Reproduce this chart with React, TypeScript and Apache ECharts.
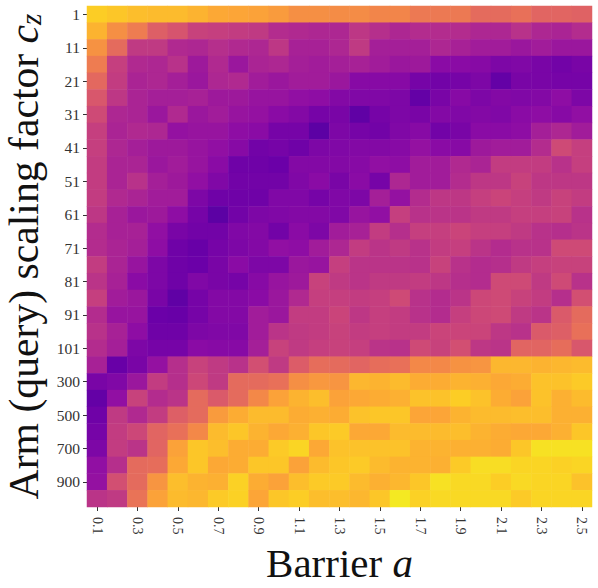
import React, { useEffect, useRef } from "react";
import * as echarts from "echarts";

const barriers = ["0.1","0.2","0.3","0.4","0.5","0.6","0.7","0.8","0.9","1.0","1.1","1.2","1.3","1.4","1.5","1.6","1.7","1.8","1.9","2.0","2.1","2.2","2.3","2.4","2.5"];
const scales = ["1","6","11","16","21","26","31","36","41","46","51","56","61","66","71","76","81","86","91","96","101","200","300","400","500","600","700","800","900","1000"];
const plasma = ["#0d0887","#41049d","#6a00a8","#8f0da4","#b12a90","#cc4778","#e16462","#f2844b","#fca636","#fcce25","#f0f921"];

const values: number[][] = [
  [.92,.90,.88,.87,.87,.85,.82,.81,.80,.78,.74,.74,.73,.73,.71,.71,.67,.67,.67,.62,.62,.64,.60,.60,.59],
  [.85,.74,.68,.58,.54,.47,.46,.45,.44,.39,.38,.37,.37,.43,.40,.37,.39,.39,.39,.37,.37,.41,.37,.36,.39],
  [.75,.62,.44,.44,.38,.37,.40,.38,.37,.43,.35,.35,.37,.44,.34,.34,.34,.37,.35,.33,.33,.31,.33,.31,.31],
  [.68,.46,.38,.37,.41,.32,.38,.31,.36,.37,.34,.33,.34,.35,.33,.31,.32,.26,.26,.25,.22,.23,.21,.19,.21],
  [.61,.45,.36,.37,.34,.31,.37,.38,.33,.31,.33,.33,.31,.25,.25,.25,.20,.19,.20,.22,.15,.21,.21,.20,.20],
  [.55,.43,.36,.34,.34,.35,.32,.32,.30,.30,.28,.27,.24,.23,.23,.22,.15,.21,.25,.22,.24,.23,.24,.27,.22],
  [.50,.37,.36,.31,.38,.31,.33,.30,.29,.26,.24,.20,.21,.14,.20,.22,.21,.24,.23,.24,.23,.26,.27,.25,.28],
  [.46,.36,.38,.37,.29,.30,.30,.27,.26,.20,.20,.13,.22,.20,.19,.23,.25,.19,.21,.26,.26,.27,.34,.37,.33],
  [.46,.37,.34,.32,.32,.30,.28,.25,.19,.20,.18,.22,.23,.24,.24,.25,.29,.26,.25,.32,.33,.33,.39,.50,.46],
  [.45,.36,.36,.31,.33,.30,.26,.18,.18,.17,.24,.24,.24,.25,.28,.27,.33,.33,.38,.36,.45,.45,.45,.41,.46],
  [.45,.36,.41,.34,.32,.28,.23,.19,.19,.19,.23,.26,.21,.26,.20,.37,.33,.33,.39,.43,.43,.47,.43,.43,.43],
  [.45,.38,.36,.33,.33,.22,.18,.18,.18,.23,.23,.20,.23,.22,.34,.29,.39,.43,.43,.46,.48,.46,.44,.47,.45],
  [.43,.35,.31,.32,.27,.20,.13,.19,.22,.23,.24,.24,.23,.30,.28,.46,.41,.42,.42,.44,.44,.46,.46,.47,.41],
  [.39,.35,.35,.28,.21,.19,.19,.23,.24,.19,.26,.22,.33,.35,.45,.40,.46,.46,.48,.46,.46,.44,.41,.40,.42],
  [.39,.36,.34,.27,.18,.16,.20,.22,.24,.28,.27,.33,.37,.45,.42,.44,.41,.45,.46,.42,.39,.41,.41,.50,.50],
  [.45,.36,.30,.22,.18,.17,.21,.26,.22,.22,.31,.30,.46,.42,.42,.42,.41,.47,.41,.39,.40,.44,.46,.47,.47],
  [.42,.35,.26,.22,.18,.23,.21,.20,.25,.30,.32,.47,.44,.42,.44,.44,.45,.43,.40,.39,.50,.50,.44,.50,.41],
  [.46,.33,.31,.21,.14,.20,.24,.24,.26,.31,.38,.46,.46,.45,.46,.50,.41,.39,.42,.49,.50,.47,.45,.40,.52],
  [.39,.30,.30,.17,.16,.20,.24,.24,.33,.31,.45,.45,.48,.43,.46,.45,.41,.39,.46,.49,.50,.44,.42,.56,.62],
  [.41,.35,.27,.18,.18,.22,.23,.23,.33,.42,.44,.45,.47,.45,.46,.45,.45,.48,.48,.48,.43,.41,.56,.58,.64],
  [.39,.34,.22,.20,.20,.26,.25,.25,.34,.47,.44,.46,.47,.46,.42,.41,.50,.47,.52,.43,.42,.60,.60,.63,.55],
  [.35,.16,.21,.29,.40,.47,.44,.41,.52,.44,.57,.63,.62,.60,.63,.64,.72,.72,.75,.76,.86,.86,.85,.86,.87],
  [.21,.23,.31,.45,.40,.49,.44,.62,.62,.64,.74,.77,.76,.86,.85,.87,.83,.83,.85,.84,.82,.83,.89,.89,.91],
  [.15,.28,.47,.39,.42,.62,.56,.62,.72,.80,.85,.88,.80,.82,.83,.84,.89,.89,.92,.89,.83,.80,.89,.84,.87],
  [.18,.44,.38,.45,.58,.62,.78,.83,.87,.87,.83,.84,.83,.89,.90,.90,.81,.81,.85,.87,.87,.88,.88,.84,.84],
  [.20,.45,.49,.60,.64,.72,.87,.90,.85,.82,.84,.90,.91,.82,.82,.87,.87,.87,.88,.85,.83,.82,.82,.84,.90],
  [.22,.45,.42,.60,.80,.90,.88,.83,.83,.91,.94,.82,.89,.89,.89,.89,.85,.85,.84,.84,.83,.90,.97,.97,.97],
  [.28,.40,.62,.63,.82,.90,.82,.83,.90,.90,.80,.87,.90,.91,.87,.85,.85,.84,.91,.96,.96,.94,.94,.93,.94],
  [.29,.52,.62,.76,.88,.85,.84,.93,.83,.80,.88,.91,.91,.87,.84,.86,.90,.97,.95,.95,.92,.95,.94,.94,.89],
  [.42,.44,.65,.80,.87,.86,.91,.93,.81,.90,.92,.88,.88,.86,.90,.99,.93,.95,.95,.95,.95,.91,.94,.94,.94],
];

const cells: number[][] = [];
values.forEach((row, y) => row.forEach((v, x) => cells.push([x, y, v])));

const serif = "'Liberation Serif', 'DejaVu Serif', serif";

export default function App() {
  const ref = useRef<HTMLDivElement>(null);
  useEffect(() => {
    const chart = echarts.init(ref.current!, null, { renderer: "svg" });
    chart.setOption({
      animation: false,
      backgroundColor: "#ffffff",
      grid: { left: 87, top: 6, width: 505, height: 501, outerBoundsMode: "none" },
      xAxis: {
        type: "category",
        data: barriers,
        name: "{n|Barrier }{i|a}",
        nameLocation: "middle",
        nameGap: 34,
        nameTextStyle: { rich: {
          n: { fontFamily: serif, fontSize: 41, color: "#111" },
          i: { fontFamily: serif, fontSize: 41, fontStyle: "italic", color: "#111" },
        } },
        axisLine: { show: false },
        axisTick: { show: true, length: 4, alignWithLabel: true, interval: 1, lineStyle: { color: "#333", width: 1 } },
        axisLabel: { interval: 1, rotate: -90, fontFamily: serif, fontSize: 14, color: "#333", margin: 10 },
        splitLine: { show: false },
      },
      yAxis: {
        type: "category",
        data: scales,
        inverse: true,
        name: "{n|Arm (query) scaling factor }{i|c}{s|z}",
        nameLocation: "middle",
        nameGap: 42,
        nameTextStyle: { rich: {
          n: { fontFamily: serif, fontSize: 41.7, color: "#111" },
          i: { fontFamily: serif, fontSize: 41.7, fontStyle: "italic", color: "#111" },
          s: { fontFamily: serif, fontSize: 29, fontStyle: "italic", color: "#111", verticalAlign: "bottom" },
        } },
        axisLine: { show: false },
        axisTick: { show: true, length: 4, alignWithLabel: true, interval: 1, lineStyle: { color: "#333", width: 1 } },
        axisLabel: { interval: 1, fontFamily: serif, fontSize: 15.5, color: "#333", margin: 7 },
        splitLine: { show: false },
      },
      visualMap: { show: false, min: -0.05, max: 1.03, inRange: { color: plasma } },
      series: [{ type: "heatmap", data: cells, silent: true, itemStyle: { borderWidth: 0 } }],
    });
    return () => chart.dispose();
  }, []);
  return <div ref={ref} style={{ position: "absolute", left: 0, top: 0, width: 598, height: 588 }} />;
}
